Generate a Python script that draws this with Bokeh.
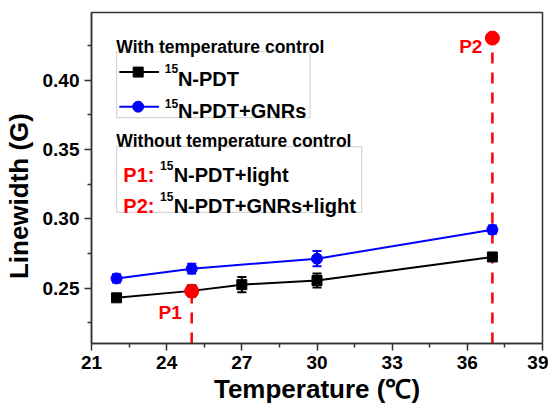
from bokeh.plotting import figure
from bokeh.models import (FixedTicker, NumeralTickFormatter, Whisker, ColumnDataSource,
                          Label, BoxAnnotation, Range1d)
from bokeh.embed import file_html
from bokeh.resources import INLINE

# ---------------- data ----------------
temp_pdt = [22, 25, 27, 30, 37]
lw_pdt = [0.243, 0.248, 0.2525, 0.2555, 0.2725]
err_pdt = [0.002, 0.004, 0.0055, 0.005, 0.002]

temp_gnr = [22, 25, 30, 37]
lw_gnr = [0.257, 0.264, 0.2712, 0.2922]
err_gnr = [0.003, 0.0035, 0.0055, 0.003]

p_names = ["P1", "P2"]
p_temp = [25, 37]
p_lw = [0.2478, 0.4305]

x_ticks = [21, 24, 27, 30, 33, 36, 39]
x_minor = [22.5, 25.5, 28.5, 31.5, 34.5, 37.5]
y_ticks = [0.25, 0.30, 0.35, 0.40]
y_minor = [0.225, 0.275, 0.325, 0.375, 0.425]

X0, X1 = 21, 39
Y0, Y1 = 0.21, 0.449

FONT = "Liberation Sans"
RED = "#ff0000"
BLUE = "#0000ff"

# frame geometry (canvas pixels)
W, H = 548, 406
FL, FR, FT, FB = 88, 542, 12, 347

p = figure(width=W, height=H, output_backend="svg", toolbar_location=None,
           x_range=Range1d(X0, X1), y_range=Range1d(Y0, Y1),
           min_border_left=FL, min_border_right=W - FR,
           min_border_top=FT, min_border_bottom=H - FB)
p.grid.visible = False
p.background_fill_color = "white"
p.border_fill_color = "white"
p.outline_line_color = "#333333"
p.outline_line_width = 1.5


def dx(px):
    return X0 + (px - FL) / (FR - FL) * (X1 - X0)


def dy(py):
    return Y0 + (FB - py) / (FB - FT) * (Y1 - Y0)


for ax in (p.xaxis[0], p.yaxis[0]):
    ax.axis_line_color = "#333333"
    ax.axis_line_width = 1.5
    ax.major_tick_line_color = "#333333"
    ax.minor_tick_line_color = "#333333"
    ax.major_tick_line_width = 1.5
    ax.minor_tick_line_width = 1.5
    ax.major_tick_out = 7
    ax.major_tick_in = 0
    ax.minor_tick_out = 4
    ax.minor_tick_in = 0
    ax.major_label_text_font = FONT
    ax.major_label_text_font_style = "bold"
    ax.major_label_text_font_size = "19px"
    ax.major_label_text_color = "black"
    ax.axis_label_text_font = FONT
    ax.axis_label_text_font_style = "bold"
    ax.axis_label_text_color = "black"

p.xaxis.ticker = FixedTicker(ticks=x_ticks, minor_ticks=x_minor)
p.yaxis.ticker = FixedTicker(ticks=y_ticks, minor_ticks=y_minor)
p.yaxis.formatter = NumeralTickFormatter(format="0.00")

p.xaxis.axis_label = "Temperature (\u2103)"
p.xaxis.axis_label_text_font_size = "26px"
p.xaxis.major_label_standoff = 5
p.xaxis.axis_label_standoff = 2
p.yaxis.axis_label = "Linewidth (G)\u00a0\u00a0\u00a0\u00a0\u00a0"
p.yaxis.axis_label_text_font_size = "26px"
p.yaxis.major_label_standoff = 5
p.yaxis.axis_label_standoff = 6

# dashed red verticals
for t, v in zip(p_temp, p_lw):
    p.line([t, t], [Y0, v], line_color=RED, line_width=2.5, line_dash="11 9")

# series lines
p.line(temp_pdt, lw_pdt, line_color="black", line_width=2)
p.line(temp_gnr, lw_gnr, line_color=BLUE, line_width=2)

src_pdt = ColumnDataSource(dict(x=temp_pdt, y=lw_pdt,
                                lo=[a - b for a, b in zip(lw_pdt, err_pdt)],
                                hi=[a + b for a, b in zip(lw_pdt, err_pdt)]))
src_gnr = ColumnDataSource(dict(x=temp_gnr, y=lw_gnr,
                                lo=[a - b for a, b in zip(lw_gnr, err_gnr)],
                                hi=[a + b for a, b in zip(lw_gnr, err_gnr)]))
for src, col in ((src_pdt, "black"), (src_gnr, BLUE)):
    w = Whisker(source=src, base="x", lower="lo", upper="hi",
                line_color=col, line_width=2)
    w.upper_head.size = 9
    w.lower_head.size = 9
    w.upper_head.line_color = col
    w.lower_head.line_color = col
    w.upper_head.line_width = 2
    w.lower_head.line_width = 2
    p.add_layout(w)

p.scatter("x", "y", source=src_pdt, marker="square", size=10, color="black")
p.scatter("x", "y", source=src_gnr, marker="circle", size=11, color=BLUE)

# red P points
p.scatter(p_temp, p_lw, marker="circle", size=14, color=RED)
p.text([p_temp[0]], [p_lw[0]], text=[p_names[0]], x_offset=-10, y_offset=21,
       text_align="right", text_baseline="alphabetic", text_color=RED,
       text_font={"value": FONT}, text_font_style="bold", text_font_size="19px")
p.text([p_temp[1]], [p_lw[1]], text=[p_names[1]], x_offset=-10, y_offset=8,
       text_align="right", text_baseline="alphabetic", text_color=RED,
       text_font={"value": FONT}, text_font_style="bold", text_font_size="19px")


def label(px, py, text, size, color="black", align="left", baseline="alphabetic"):
    lb = Label(x=dx(px), y=dy(py), text=text, text_font=FONT, text_font_style="bold",
               text_font_size=size, text_color=color, text_align=align,
               text_baseline=baseline)
    p.add_layout(lb)


# legend 1
label(113, 46.7, "With temperature control", "17.5px")
p.add_layout(BoxAnnotation(left=dx(113.3), right=dx(308), top=dy(51.7), bottom=dy(118.3),
                           fill_alpha=0, line_color="#777777", line_width=1.2))
p.line([dx(116), dx(156)], [dy(72.3), dy(72.3)], line_color="black", line_width=2)
p.scatter([dx(135)], [dy(72.3)], marker="square", size=10, color="black")
label(161.7, 69, "15", "12px")
label(175, 79.3, "N-PDT", "20px")
p.line([dx(116), dx(156)], [dy(107.3), dy(107.3)], line_color=BLUE, line_width=2)
p.scatter([dx(135)], [dy(107.3)], marker="circle", size=11, color=BLUE)
label(161.7, 104, "15", "12px")
label(175, 111.7, "N-PDT+GNRs", "20px")

# legend 2
label(113, 141.7, "Without temperature control", "17.5px")
p.add_layout(BoxAnnotation(left=dx(113.3), right=dx(360), top=dy(147.7), bottom=dy(214.3),
                           fill_alpha=0, line_color="#777777", line_width=1.2))
label(120, 176, "P1:", "20px", color=RED)
label(157, 166.5, "15", "12px")
label(170.7, 176, "N-PDT+light", "20px")
label(120, 208.3, "P2:", "20px", color=RED)
label(157, 198, "15", "12px")
label(170.7, 208.3, "N-PDT+GNRs+light", "20px")

open("out.html", "w").write(file_html(p, INLINE))
